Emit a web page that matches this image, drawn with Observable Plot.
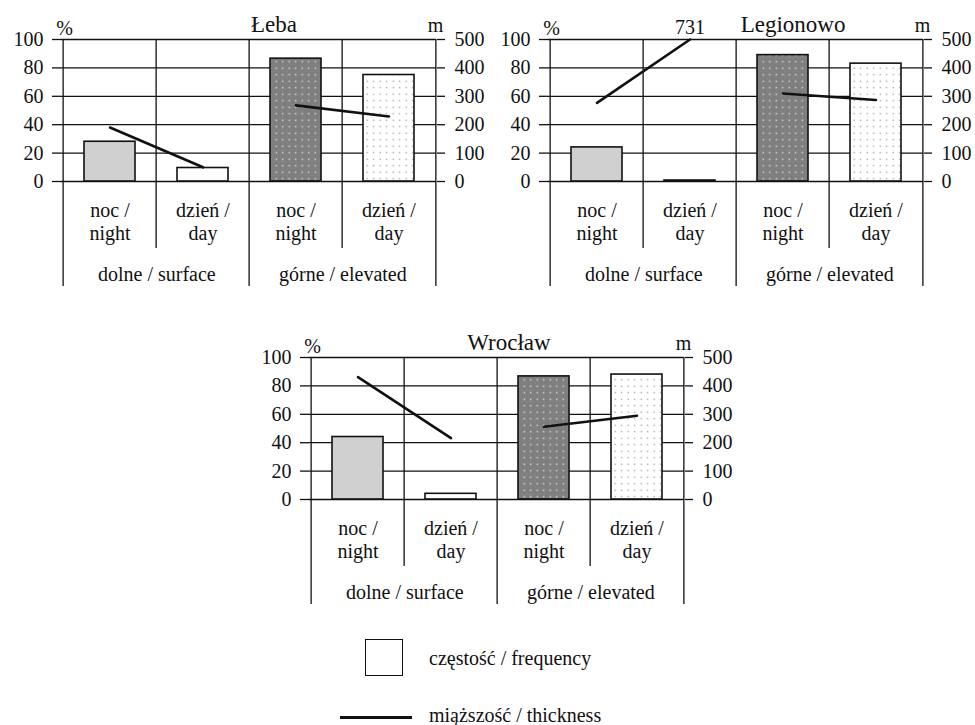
<!DOCTYPE html>
<html><head><meta charset="utf-8">
<script src="https://cdn.jsdelivr.net/npm/d3@7"></script>
<script src="https://cdn.jsdelivr.net/npm/@observablehq/plot@0.6"></script>
<style>
body{margin:0;background:#fff;}
#root{position:relative;width:975px;height:725px;overflow:hidden;background:#fff;font-family:'Liberation Serif',serif;}
.panel{position:absolute;}
</style></head><body>
<div id="root"></div>
<script>
// ---------- data ----------
const stations = ["Łeba", "Legionowo", "Wrocław"];
const categories = ["surface-night", "surface-day", "elevated-night", "elevated-day"];
const categoryLayer = ["surface", "surface", "elevated", "elevated"];
const timeLabels = ["noc /\nnight", "dzień /\nday", "noc /\nnight", "dzień /\nday"];
const layers = ["surface", "elevated"];
const layerLabels = ["dolne / surface", "górne / elevated"];

const lebaFrequency = [28, 9.5, 86.5, 75];
const lebaThickness = [190, 50, 268, 229];
const legionowoFrequency = [24, 0.7, 89, 83];
const legionowoThickness = [277, 731, 310, 287];
const wroclawFrequency = [44, 4, 86.7, 88];
const wroclawThickness = [431, 216, 256, 295];

const frequencyTicks = [0, 20, 40, 60, 80, 100];
const thicknessTicks = [0, 100, 200, 300, 400, 500];
const frequencyUnit = "%";
const thicknessUnit = "m";
const legendLabels = ["częstość / frequency", "miąższość / thickness"];

// ---------- styles / layout ----------
const panels = [
  {left: 0, top: 0, titleDx: 25},
  {left: 487, top: 0, titleDx: 57},
  {left: 248, top: 318, titleDx: 12}
];
const seriesF = [lebaFrequency, legionowoFrequency, wroclawFrequency];
const seriesT = [lebaThickness, legionowoThickness, wroclawThickness];

const root = document.getElementById("root");
const ink = "#111";
const serif = "Liberation Serif";

function addPatterns(svg, k) {
  const defs = d3.select(svg).insert("defs", ":first-child");
  const dark = defs.append("pattern").attr("id", "dd" + k).attr("width", 6.5).attr("height", 6.5).attr("patternUnits", "userSpaceOnUse");
  dark.append("rect").attr("width", 6.5).attr("height", 6.5).attr("fill", "#7f7f7f");
  dark.append("rect").attr("x", 2.6).attr("y", 2.6).attr("width", 1.3).attr("height", 1.3).attr("fill", "#ececec");
  const light = defs.append("pattern").attr("id", "dl" + k).attr("width", 6.5).attr("height", 6.5).attr("patternUnits", "userSpaceOnUse");
  light.append("rect").attr("width", 6.5).attr("height", 6.5).attr("fill", "#ffffff");
  light.append("rect").attr("x", 2.6).attr("y", 2.6).attr("width", 1.2).attr("height", 1.2).attr("fill", "#8c8c8c");
}

function makePanel(name, freq, thick, pos, k) {
  const W = 487, H = 287, ml = 61, mr = 51, mt = 39, mb = 106;
  const bw = (W - ml - mr) / categories.length;
  const fMax = d3.max(frequencyTicks), tMax = d3.max(thicknessTicks);
  const fills = ["#d0d0d0", "#ffffff", `url(#dd${k})`, `url(#dl${k})`];
  const rows = categories.map((c, i) => ({
    cat: c, layer: categoryLayer[i], label: timeLabels[i],
    freq: freq[i], thick: thick[i],
    shown: Math.min(thick[i], tMax) * fMax / tMax,
    fill: fills[i]
  }));
  const groups = layers.map((l, j) => ({cat: categories[categoryLayer.indexOf(l)], label: layerLabels[j]}));
  const short = categories.filter((c, i) => i % 2 === 1);
  const full = categories.filter((c, i) => i % 2 === 0);
  const over = rows.filter(d => d.thick > tMax);
  const plot = Plot.plot({
    width: W, height: H,
    marginLeft: ml, marginRight: mr, marginTop: mt, marginBottom: mb,
    x: {domain: categories, padding: 0, axis: null},
    y: {domain: [0, fMax], axis: null},
    color: {type: "identity"},
    style: {fontFamily: "'Liberation Serif', serif", fontSize: "20px", color: ink, background: "transparent", overflow: "visible"},
    marks: [
      Plot.ruleY(frequencyTicks, {stroke: ink, strokeWidth: 1.3}),
      Plot.axisY({anchor: "left", ticks: frequencyTicks, tickSize: 9, tickPadding: 9, label: null, tickFormat: d => String(d), strokeWidth: 1.3, fontFamily: serif, fontSize: 20}),
      Plot.axisY({anchor: "right", ticks: frequencyTicks, tickSize: 8, tickPadding: 10, label: null,
        tickFormat: d => String(thicknessTicks[frequencyTicks.indexOf(d)]), strokeWidth: 1.3, fontFamily: serif, fontSize: 20}),
      Plot.barY(rows, {x: "cat", y: "freq", fill: "fill", stroke: ink, strokeWidth: 1.6, insetLeft: 21, insetRight: 21}),
      Plot.line(rows, {x: "cat", y: "shown", z: "layer", stroke: ink, strokeWidth: 2.6}),
      Plot.text(over, {x: "cat", y: "shown", text: d => String(d.thick), dy: -12, fontSize: 20, fontFamily: serif}),
      Plot.ruleX(full, {x: d => d, dx: -bw / 2, stroke: ink, strokeWidth: 1.3, insetBottom: -105}),
      Plot.ruleX(short, {x: d => d, dx: -bw / 2, stroke: ink, strokeWidth: 1.3, insetBottom: -67}),
      Plot.ruleX(categories.slice(-1), {x: d => d, dx: bw / 2, stroke: ink, strokeWidth: 1.3, insetBottom: -105}),
      Plot.text(rows, {x: "cat", frameAnchor: "bottom", text: "label", lineAnchor: "top", lineHeight: 1.15, dy: 19, fontSize: 20, fontFamily: serif}),
      Plot.text(groups, {x: "cat", frameAnchor: "bottom", lineAnchor: "middle", text: "label", dx: bw / 2, dy: 93, fontSize: 20, fontFamily: serif}),
      Plot.text([name], {frameAnchor: "top", lineAnchor: "middle", dx: pos.titleDx, dy: -15, fontSize: 23, fontFamily: serif}),
      Plot.text([frequencyUnit], {frameAnchor: "top-left", lineAnchor: "middle", textAnchor: "middle", dx: 3, dy: -11, fontSize: 20, fontFamily: serif}),
      Plot.text([thicknessUnit], {frameAnchor: "top-right", lineAnchor: "middle", textAnchor: "middle", dx: -1, dy: -14, fontSize: 20, fontFamily: serif})
    ]
  });
  addPatterns(plot, k);
  const div = document.createElement("div");
  div.className = "panel";
  div.style.cssText = `position:absolute;left:${pos.left}px;top:${pos.top}px;font-family:'Liberation Serif',serif;`;
  div.appendChild(plot);
  root.appendChild(div);
}

stations.forEach((s, i) => makePanel(s, seriesF[i], seriesT[i], panels[i], i));

// legend
function add(css, txt) {
  const d = document.createElement("div");
  d.style.cssText = "position:absolute;" + css;
  if (txt) d.textContent = txt;
  root.appendChild(d);
  return d;
}
add("left:365px;top:639px;width:36px;height:35px;border:1.3px solid #111;background:#fff;");
add("left:340px;top:716px;width:72px;height:2.6px;background:#111;");
add("left:429px;top:647px;font-size:20px;line-height:22px;color:#111;white-space:nowrap;font-family:'Liberation Serif',serif;", legendLabels[0]);
add("left:429px;top:704px;font-size:20px;line-height:22px;color:#111;white-space:nowrap;font-family:'Liberation Serif',serif;", legendLabels[1]);
</script>
</body></html>
